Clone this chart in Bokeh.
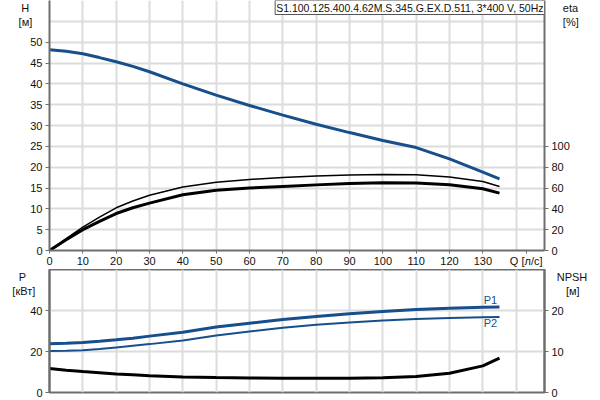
from bokeh.plotting import figure
from bokeh.models import Range1d, LinearAxis, FixedTicker, Label, ColumnDataSource
from bokeh.layouts import column
from bokeh.embed import file_html
from bokeh.resources import INLINE

# ---- data ----
Q = [0, 5, 10, 15, 20, 25, 30, 40, 50, 60, 70, 80, 90, 100, 110, 120, 130, 135]
H = [48.2, 47.8, 47.2, 46.3, 45.3, 44.2, 42.9, 40.0, 37.3, 34.8, 32.5, 30.3, 28.3, 26.4, 24.7, 22.0, 18.8, 17.2]
ETA_THIN = [0, 11.5, 22.5, 32.0, 41.0, 47.5, 53.0, 61.0, 65.5, 68.2, 70.0, 71.5, 72.4, 73.0, 72.8, 70.5, 66.3, 61.5]
ETA_THICK = [0, 10.3, 20.0, 28.0, 35.5, 41.0, 45.5, 53.5, 57.8, 60.0, 61.5, 63.0, 64.4, 65.0, 64.8, 63.2, 59.3, 55.1]
P1 = [23.8, 24.0, 24.4, 25.0, 25.7, 26.5, 27.5, 29.4, 31.9, 33.8, 35.6, 37.1, 38.4, 39.5, 40.5, 41.1, 41.6, 41.7]
P2 = [20.3, 20.4, 20.6, 21.2, 22.0, 22.8, 23.6, 25.4, 27.8, 29.8, 31.6, 33.0, 34.1, 35.1, 35.8, 36.3, 36.7, 36.8]
NPSH = [5.85, 5.45, 5.1, 4.8, 4.5, 4.3, 4.07, 3.8, 3.65, 3.55, 3.5, 3.45, 3.45, 3.6, 3.9, 4.7, 6.5, 8.4]

Q_TICKS = [0, 10, 20, 30, 40, 50, 60, 70, 80, 90, 100, 110, 120, 130]
Q_LABEL_POS = 143
Q_GRID = Q_TICKS + [140]
H_TICKS = [0, 5, 10, 15, 20, 25, 30, 35, 40, 45, 50]
H_GRID = H_TICKS + [55]
ETA_TICKS = [0, 20, 40, 60, 80, 100]
P_TICKS = [0, 20, 40]
NPSH_TICKS = [0, 10, 20]
TITLE = "S1.100.125.400.4.62M.S.345.G.EX.D.511, 3*400 V, 50Hz"

NB = "\u00a0"
PAD = NB + "\n" + NB + "\n"   # two blank lines so the label block sits below the frame top
H_LABEL = PAD + "H" + NB + "\n[м]"
ETA_LABEL = PAD + "eta\n[%]"
P_LABEL = PAD + "P" + NB * 3 + "\n[кВт]"
NPSH_LABEL = PAD + "NPSH\n" + NB * 3 + "[м]"

BLUE = "#174f8c"
AXIS = "#6e6e6e"
GRID = "#dcdcdc"
FONT = "Liberation Sans"
FS = "11px"

src = ColumnDataSource(dict(q=Q, h=H, et=ETA_THIN, ek=ETA_THICK, p1=P1, p2=P2, npsh=NPSH))

xr = Range1d(0, 148.5)


def style_axis(ax, label=None, standoff=0):
    ax.axis_line_color = AXIS
    ax.axis_line_width = 2
    ax.major_tick_line_color = AXIS
    ax.major_tick_out = 4
    ax.major_tick_in = 0
    ax.minor_tick_line_color = None
    ax.major_label_text_font = FONT
    ax.major_label_text_font_size = FS
    ax.major_label_text_color = "#111111"
    ax.major_label_standoff = 3
    if label is not None:
        ax.axis_label = label
        ax.axis_label_orientation = "horizontal"
        ax.axis_label_align = "end"
        ax.axis_label_standoff = standoff
        ax.axis_label_text_font = FONT
        ax.axis_label_text_font_size = FS
        ax.axis_label_text_font_style = "normal"
        ax.axis_label_text_color = "#111111"


# ---------------- top chart ----------------
p = figure(frame_width=495, frame_height=250, x_range=xr, y_range=Range1d(0, 60),
           output_backend="svg", toolbar_location=None,
           min_border_left=49, min_border_right=56, min_border_top=0, min_border_bottom=18)
p.outline_line_color = None
p.extra_y_ranges = {"eta": Range1d(0, 240)}

p.xaxis.ticker = FixedTicker(ticks=Q_TICKS + [Q_LABEL_POS])
p.xaxis.major_label_overrides = {Q_LABEL_POS: "Q [л/с]"}
p.yaxis.ticker = FixedTicker(ticks=H_TICKS)
p.xgrid.ticker = FixedTicker(ticks=Q_GRID)
p.ygrid.ticker = FixedTicker(ticks=H_GRID)
for g in (p.xgrid[0], p.ygrid[0]):
    g.grid_line_color = GRID
    g.grid_line_width = 2
eta_ax = LinearAxis(y_range_name="eta", ticker=FixedTicker(ticks=ETA_TICKS))
p.add_layout(eta_ax, "right")
style_axis(p.xaxis[0])
style_axis(p.yaxis[0], H_LABEL, -5)
style_axis(eta_ax, ETA_LABEL, -10)
p.xaxis.major_tick_out = 3
p.xaxis.major_label_standoff = 1

p.line("q", "h", source=src, line_color=BLUE, line_width=3)
p.line("q", "et", source=src, line_color="black", line_width=1.5, y_range_name="eta")
p.line("q", "ek", source=src, line_color="black", line_width=3, y_range_name="eta")

p.add_layout(Label(x=148.5, y=60, text=TITLE, text_font=FONT, text_font_size="10.5px",
                   text_color="#111111", text_align="right", text_baseline="top",
                   background_fill_color="white", border_line_color="#555555",
                   border_line_width=1, padding=1))

# ---------------- bottom chart ----------------
b = figure(frame_width=495, frame_height=123, x_range=xr, y_range=Range1d(0, 60),
           output_backend="svg", toolbar_location=None,
           min_border_left=49, min_border_right=56, min_border_top=0, min_border_bottom=9)
b.outline_line_color = AXIS
b.outline_line_width = 2
b.extra_y_ranges = {"npsh": Range1d(0, 30)}
b.xaxis.visible = False
b.xgrid.ticker = FixedTicker(ticks=Q_GRID)
b.yaxis.ticker = FixedTicker(ticks=P_TICKS)
for g in (b.xgrid[0], b.ygrid[0]):
    g.grid_line_color = GRID
    g.grid_line_width = 2
np_ax = LinearAxis(y_range_name="npsh", ticker=FixedTicker(ticks=NPSH_TICKS))
b.add_layout(np_ax, "right")
style_axis(b.yaxis[0], P_LABEL, -8)
style_axis(np_ax, NPSH_LABEL, -10)

b.line("q", "p1", source=src, line_color=BLUE, line_width=3)
b.line("q", "p2", source=src, line_color=BLUE, line_width=2)
b.line("q", "npsh", source=src, line_color="black", line_width=3, y_range_name="npsh")

for txt, yv in (("P1", 44.9), ("P2", 33.7)):
    b.add_layout(Label(x=132.3, y=yv, text=txt, text_font=FONT, text_font_size=FS,
                       text_color=BLUE, text_align="center", text_baseline="middle"))

layout = column(p, b, spacing=0)
open("out.html", "w").write(file_html(layout, INLINE))
